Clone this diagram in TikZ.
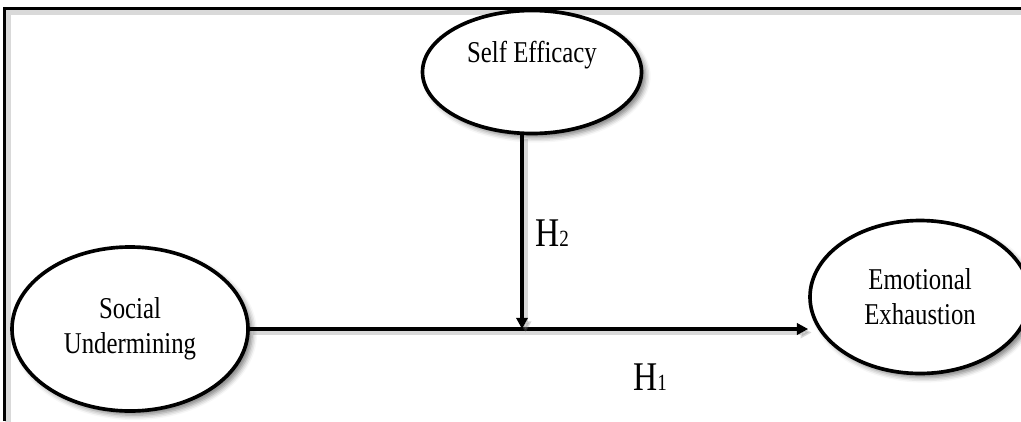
\documentclass[tikz,border=0pt]{standalone}
\usepackage{fontspec}
\setmainfont{Liberation Serif}
\newfontfamily\narrowfont[FakeStretch=0.82]{Liberation Serif}
\usetikzlibrary{arrows.meta, shapes.geometric, shadows.blur}

\begin{document}
\begin{tikzpicture}[
    latent/.style={ellipse, draw, line width=2.6pt, fill=white, inner sep=0pt, align=center,
        font=\narrowfont\fontsize{21.5}{25}\selectfont,
        blur shadow={shadow xshift=3pt, shadow yshift=-3pt, shadow blur radius=3.5pt, shadow opacity=50}},
    soft/.style={preaction={draw, black!50, opacity=0.3, line width=4pt, transform canvas={shift={(2.5pt,-2.5pt)}}}},
    hpath/.style={line width=2.4pt, -{Triangle[length=0.28cm, width=0.28cm]}, soft},
    hyp/.style={font=\narrowfont\fontsize{29}{29}\selectfont, inner sep=0pt},
    >=stealth
]
\useasboundingbox (0,0) rectangle (25.525,10.525);

% Frame
\draw[line width=1.6pt, soft] (0.11,0) -- (0.11,10.31) -- (25.6,10.31);

% Nodes
\node[latent, minimum width=5.9cm, minimum height=4.1cm] (su) at (3.25,2.3) {Social\\Undermining};
\node[latent, minimum width=5.475cm, minimum height=3.075cm,
    label={[yshift=0.42cm, font=\narrowfont\fontsize{21.5}{25}\selectfont]center:Self Efficacy}] (se) at (13.3,8.725) {};
\node[latent, minimum width=5.5cm, minimum height=3.825cm] (ee) at (23.0,3.1) {Emotional\\Exhaustion};
\coordinate (mod) at (13.05,2.3);

% Arrows
\draw[hpath] (su.east) -- (su.east -| ee.west);
\draw[hpath] (se.south -| mod) -- (mod);

% Labels
\node[hyp] (h2) at (13.8,4.7) {H{\fontsize{16.5}{16.5}\selectfont 2}};
\node[hyp] (h1) at (16.25,1.1) {H{\fontsize{16.5}{16.5}\selectfont 1}};

\end{tikzpicture}
\end{document}
